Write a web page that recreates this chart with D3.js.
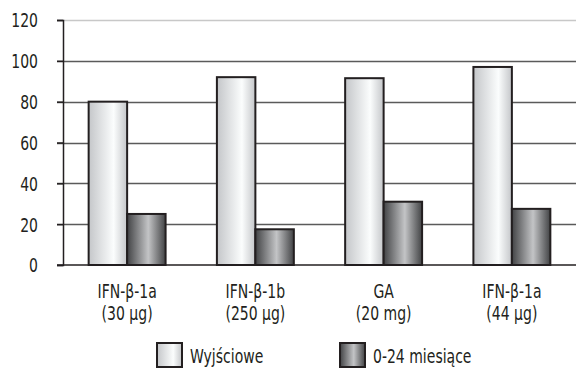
<!DOCTYPE html>
<html>
<head>
<meta charset="utf-8">
<script src="https://cdn.jsdelivr.net/npm/d3@7"></script>
<style>
  body { margin: 0; background: #fff; }
  svg text { font-family: "Liberation Sans Narrow", "DejaVu Sans Condensed", sans-serif; fill: #231f20; }
</style>
</head>
<body>
<div id="chart"></div>
<script>
// Chart data
const categories = [["IFN-β-1a", "(30 µg)"], ["IFN-β-1b", "(250 µg)"], ["GA", "(20 mg)"], ["IFN-β-1a", "(44 µg)"]]
const seriesNames = ["Wyjściowe", "0-24 miesiące"]
const baseline = [80, 92, 91.5, 97]
const months24 = [25, 17.5, 31, 27.5]
const yTicks = [0, 20, 40, 60, 80, 100, 120]

const width = 576, height = 369
const margin = { left: 63, right: 0, top: 20, bottom: 104 }
const squeeze = 0.82   // narrow the glyphs like the condensed original font

// Move a text's x/y into a transform so it can be squeezed horizontally
function condense(sel) {
  sel.each(function () {
    const t = d3.select(this)
    const tx = +t.attr("x") || 0
    const ty = +t.attr("y") || 0
    t.attr("x", null).attr("y", null)
     .attr("transform", "translate(" + tx + "," + ty + ") scale(" + squeeze + ",1)")
  })
}

const svg = d3.select("#chart").append("svg")
  .attr("width", width).attr("height", height)

// Gradients for the cylinder-like bars
const defs = svg.append("defs")
const gLight = defs.append("linearGradient").attr("id", "gLight")
gLight.append("stop").attr("offset", "0%").attr("stop-color", "#c4c6c9")
gLight.append("stop").attr("offset", "65%").attr("stop-color", "#fbfdfd")
gLight.append("stop").attr("offset", "100%").attr("stop-color", "#c4c6c9")
const gDark = defs.append("linearGradient").attr("id", "gDark")
gDark.append("stop").attr("offset", "0%").attr("stop-color", "#424345")
gDark.append("stop").attr("offset", "55%").attr("stop-color", "#c3c4c6")
gDark.append("stop").attr("offset", "100%").attr("stop-color", "#424345")
const fills = ["url(#gLight)", "url(#gDark)"]

const x = d3.scaleBand()
  .domain(d3.range(categories.length))
  .range([margin.left, width - margin.right])
  .paddingInner(0.4).paddingOuter(0.2)

const xSub = d3.scaleBand().domain([0, 1]).range([0, x.bandwidth()])

const y = d3.scaleLinear().domain([0, 120]).range([height - margin.bottom, margin.top])

// Gridlines
svg.append("g").selectAll("line")
  .data(yTicks.filter(d => d > 0))
  .enter().append("line")
  .attr("x1", margin.left - 6).attr("x2", width)
  .attr("y1", d => Math.round(y(d)) + 0.5).attr("y2", d => Math.round(y(d)) + 0.5)
  .attr("stroke", d => d === 120 ? "#c8c8c8" : "#5a5a5a")
  .attr("stroke-width", 1.5)

// Y axis
const yAxis = d3.axisLeft(y).tickValues(yTicks).tickSize(6).tickPadding(19)
const gy = svg.append("g")
  .attr("transform", "translate(" + margin.left + ",0)")
  .call(yAxis)
gy.select(".domain").attr("stroke", "#231f20").attr("stroke-width", 1.5)
gy.selectAll(".tick line").attr("stroke", "#231f20").attr("stroke-width", 1.5)
gy.selectAll(".tick text").style("font-size", "19px").attr("fill", "#231f20")
  .attr("dy", "0.36em").call(condense)

// Bars
const data = [baseline, months24]
data.forEach((vals, s) => {
  svg.append("g").selectAll("rect")
    .data(vals)
    .enter().append("rect")
    .attr("x", (d, i) => x(i) + xSub(s))
    .attr("y", d => y(d))
    .attr("width", xSub.bandwidth())
    .attr("height", d => y(0) - y(d))
    .attr("fill", fills[s])
    .attr("stroke", "#231f20")
    .attr("stroke-width", 2)
})

// Bottom axis line
svg.append("line")
  .attr("x1", margin.left - 6).attr("x2", width)
  .attr("y1", y(0)).attr("y2", y(0))
  .attr("stroke", "#231f20").attr("stroke-width", 1.5)

// Category labels
const cat = svg.append("g").selectAll("text")
  .data(categories)
  .enter().append("text")
  .attr("text-anchor", "middle")
  .attr("x", (d, i) => x(i) + x.bandwidth() / 2)
  .attr("y", 298)
  .style("font-size", "19px")
cat.append("tspan").attr("x", 0).text(d => d[0])
cat.append("tspan").attr("x", 0).attr("dy", 22).text(d => d[1])
cat.call(condense)

// Legend
const legendX = [157, 340]
const legend = svg.append("g").selectAll("g")
  .data(seriesNames)
  .enter().append("g")
  .attr("transform", (d, i) => "translate(" + legendX[i] + ",343)")
legend.append("rect")
  .attr("width", 25).attr("height", 24)
  .attr("fill", (d, i) => fills[i])
  .attr("stroke", "#231f20").attr("stroke-width", 2)
legend.append("text")
  .attr("x", 33).attr("y", 20)
  .style("font-size", "19px")
  .text(d => d)
  .call(condense)
</script>
</body>
</html>
